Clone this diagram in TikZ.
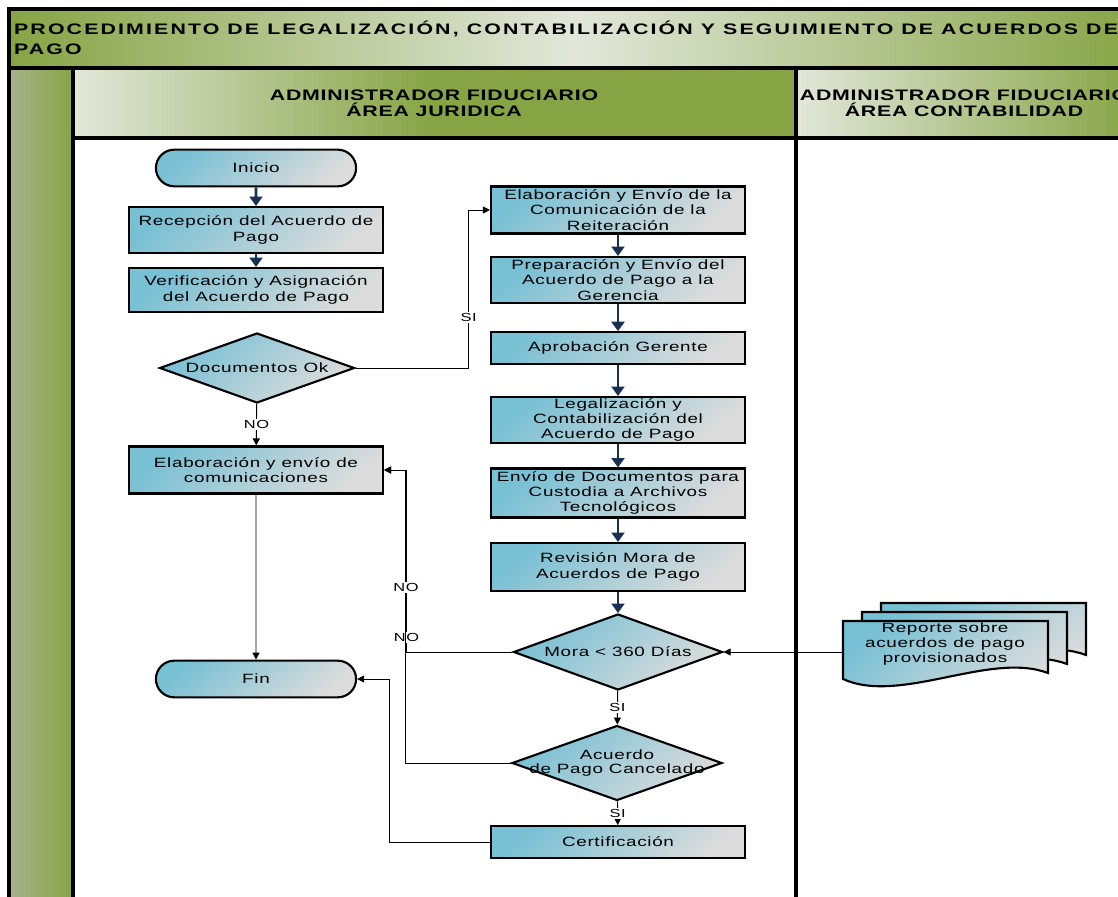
\documentclass[tikz,border=0pt]{standalone}
\usepackage{fontspec}
\setmainfont[FakeStretch=1.4,LetterSpace=5]{Liberation Sans}
\usetikzlibrary{shapes.geometric,shapes.misc,arrows.meta}
\definecolor{lanegreen}{RGB}{134,164,68}
\definecolor{lanelight}{RGB}{226,231,218}
\definecolor{laneside}{RGB}{168,178,140}
\definecolor{boxblue}{RGB}{120,192,212}
\definecolor{boxgray}{RGB}{220,220,220}
\definecolor{flownavy}{RGB}{23,48,84}
\tikzset{
  laneline/.style={draw=black, line width=3pt},
  boxshade/.style={top color=boxblue, bottom color=boxgray, shading angle=40},
  procbox/.style={rectangle, draw, line width=1.8pt, boxshade, minimum width=7.62cm,
    minimum height=1.38cm, inner sep=1pt, align=center,
    font=\fontsize{11.5}{13}\selectfont},
  shortbox/.style={procbox, minimum height=0.95cm},
  termbox/.style={rounded rectangle, draw, line width=1.8pt, boxshade,
    minimum width=6.24cm, minimum height=1.1cm, font=\fontsize{11.5}{13}\selectfont},
  decbox/.style={diamond, draw, line width=1.8pt, boxshade, aspect=2.8, inner sep=0pt,
    font=\fontsize{11.5}{13}\selectfont},
  flow/.style={draw=flownavy, line width=2.4pt, -{Triangle[width=11pt,length=8pt]}},
  link/.style={draw=black, line width=0.8pt, -{Triangle[width=6pt,length=6pt]}},
  tag/.style={fill=white, inner sep=1pt, font=\fontsize{10}{11}\selectfont},
  docpage/.pic={
    \draw[line width=1.8pt, boxshade] (0,0) -- (205,0) -- (205,52)
      .. controls (147,30) and (57,84) .. (0,58) -- cycle;
  }
}
\begin{document}
\begin{tikzpicture}[x=0.03cm,y=-0.03cm]
\useasboundingbox (0,0) rectangle (1118,897);
\clip (0,0) rectangle (1118,897);
% frame and lanes
\draw[laneline, left color=lanegreen, right color=lanegreen, middle color=lanelight] (9,9) rectangle (1140,68);
\draw[laneline, left color=laneside, right color=lanegreen] (9,68) rectangle (73,905);
\draw[laneline, left color=lanelight, right color=lanegreen, middle color=lanegreen] (73,68) rectangle (796,138);
\draw[laneline, left color=lanelight, right color=lanegreen] (796,68) rectangle (1135,138);
\draw[laneline, fill=white] (73,138) rectangle (796,905);
\draw[laneline, fill=white] (796,138) rectangle (1135,905);
\node[anchor=west, align=left, font=\fontsize{13}{17}\bfseries\addfontfeatures{LetterSpace=14}] (title) at (10,38)
  {PROCEDIMIENTO DE LEGALIZACIÓN, CONTABILIZACIÓN Y SEGUIMIENTO DE ACUERDOS DE\\PAGO};
\node[align=center, font=\fontsize{13}{14}\bfseries] (hdrjur) at (434,103)
  {ADMINISTRADOR FIDUCIARIO\\ÁREA JURIDICA};
\node[align=center, font=\fontsize{13}{14}\bfseries] (hdrcont) at (964,103)
  {ADMINISTRADOR FIDUCIARIO\\ÁREA CONTABILIDAD};
% juridica, left column
\node[termbox] (inicio) at (256,168) {Inicio};
\node[procbox] (recep) at (256,230) {Recepción del Acuerdo de\\Pago};
\node[procbox, minimum height=1.32cm] (verif) at (256,290) {Verificación y Asignación\\del Acuerdo de Pago};
\node[decbox, minimum width=5.85cm, minimum height=2.1cm] (docok) at (257,368) {Documentos Ok};
\node[procbox, minimum height=1.41cm] (comun) at (256,470) {Elaboración y envío de\\comunicaciones};
\node[termbox] (fin) at (256,679) {Fin};
% juridica, right column
\node[procbox, minimum height=1.41cm] (reiter) at (618,210) {Elaboración y Envío de la\\Comunicación de la\\Reiteración};
\node[procbox] (prepar) at (618,280) {Preparación y Envío del\\Acuerdo de Pago a la\\Gerencia};
\node[shortbox] (aprob) at (618,348) {Aprobación Gerente};
\node[procbox] (legal) at (618,420) {Legalización y\\Contabilización del\\Acuerdo de Pago};
\node[procbox, minimum height=1.47cm] (custod) at (618,493) {Envío de Documentos para\\Custodia a Archivos\\Tecnológicos};
\node[procbox, minimum height=1.44cm] (revis) at (618,567) {Revisión Mora de\\Acuerdos de Pago};
\node[decbox, minimum width=6.27cm, minimum height=2.28cm] (mora) at (618,652) {Mora < 360 Días};
\node[decbox, minimum width=6.3cm, minimum height=2.25cm] (cancel) at (617,763)
  {\makebox[0pt]{\shortstack{Acuerdo\\de Pago Cancelado}}};
\node[shortbox] (certif) at (618,842) {Certificación};
% contabilidad
\pic at (881,603) {docpage};
\pic at (862,612) {docpage};
\pic at (843,621) {docpage};
\node[align=center, font=\fontsize{11.5}{13}\selectfont] (report) at (945,644)
  {Reporte sobre\\acuerdos de pago\\provisionados};
\coordinate (repedge) at (843,652);
% connectors
\draw[flow] (inicio) -- (recep);
\draw[flow] (recep) -- (verif);
\draw[link] (docok) -- node[tag]{NO} (comun);
\draw[link] (docok.east) -- ++(113,0) |- node[tag, pos=0.16]{SI} (reiter.west);
\draw[link] (comun) -- (fin);
\draw[flow] (reiter) -- (prepar);
\draw[flow] (prepar) -- (aprob);
\draw[flow] (aprob) -- (legal);
\draw[flow] (legal) -- (custod);
\draw[flow] (custod) -- (revis);
\draw[flow] (revis) -- (mora);
\draw[link] (mora.west) -- ++(-106,0) |- node[tag, pos=0.04]{NO} (comun.east);
\draw[link] (cancel.west) -- ++(-105,0) |- node[tag, pos=0.3]{NO} (comun.east);
\draw[link] (mora) -- node[tag]{SI} (cancel);
\draw[link] (cancel) -- node[tag]{SI} (certif);
\draw[link] (certif.west) -- ++(-100,0) |- (fin.east);
\draw[link] (repedge) -- (mora.east);
\end{tikzpicture}
\end{document}
